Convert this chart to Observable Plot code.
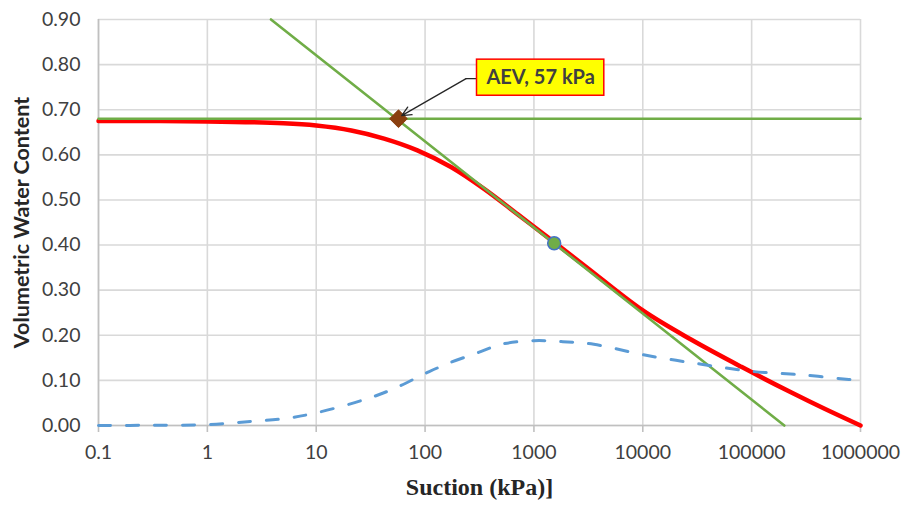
<!DOCTYPE html>
<html><head><meta charset="utf-8">
<script src="https://cdn.jsdelivr.net/npm/d3@7"></script>
<script src="https://cdn.jsdelivr.net/npm/@observablehq/plot@0.6"></script>
<style>body{margin:0;background:#fff} #chart svg{display:block}</style>
</head><body><div id="chart"></div>
<script>
// SWCC (red)
const swccSuction = [0.1, 1, 5, 10, 21, 42, 85, 173, 351, 711, 1343, 3000, 10000, 28000, 80500, 232000, 468000, 1000000];
const swccTheta   = [0.675, 0.674, 0.670, 0.665, 0.654, 0.636, 0.610, 0.573, 0.524, 0.468, 0.417, 0.352, 0.255, 0.190, 0.130, 0.073, 0.037, 0.0];
// derivative / pore-size curve (blue dashed)
const derivSuction = [0.1, 0.3, 1, 2.5, 5, 10, 30, 52, 100, 160, 310, 500, 1000, 1780, 3550, 10000, 32000, 100000, 300000, 780000, 1000000];
const derivValue   = [0.0, 0.0005, 0.002, 0.009, 0.015, 0.028, 0.060, 0.082, 0.115, 0.137, 0.162, 0.180, 0.188, 0.186, 0.180, 0.157, 0.137, 0.120, 0.112, 0.102, 0.100];
// green construction lines
const tangentSuction = [3.84, 199500];
const tangentTheta   = [0.9, 0.0];
const saturatedSuction = [0.1, 1000000];
const saturatedTheta   = [0.68, 0.68];
// markers
const aevPoint = [{x: 57, y: 0.68}];
const inflectionPoint = [{x: 1535, y: 0.404}];
// annotation
const aevLabel = "AEV, 57 kPa";
const labelBox = [{x1: 300, x2: 4430, y1: 0.731, y2: 0.811}];
const labelCenter = [{x: 1153, y: 0.771, text: aevLabel}];
const leaderLine = [{x: 300, y: 0.769}, {x: 238, y: 0.769}];
const leaderArrow = [{x1: 238, y1: 0.769, x2: 61, y2: 0.687}];
// ticks
const xTicks = [0.1, 1, 10, 100, 1000, 10000, 100000, 1000000];
const xTickLabels = ["0.1", "1", "10", "100", "1000", "10000", "100000", "1000000"];
const yTicks = [0, 0.1, 0.2, 0.3, 0.4, 0.5, 0.6, 0.7, 0.8, 0.9];
const yTickLabels = ["0.00", "0.10", "0.20", "0.30", "0.40", "0.50", "0.60", "0.70", "0.80", "0.90"];
const xTitle = "Suction (kPa)]";
const yTitle = "Volumetric Water Content";

const swcc = swccSuction.map((x, i) => ({x, y: swccTheta[i]}));
const deriv = derivSuction.map((x, i) => ({x, y: derivValue[i]}));
const tangent = tangentSuction.map((x, i) => ({x, y: tangentTheta[i]}));
const saturated = saturatedSuction.map((x, i) => ({x, y: saturatedTheta[i]}));
const xTickData = xTicks.map((x, i) => ({x, label: xTickLabels[i]}));

const chart = Plot.plot({
  width: 902,
  height: 509,
  marginLeft: 98,
  marginRight: 42,
  marginTop: 19,
  marginBottom: 84,
  style: {fontFamily: "Lato, sans-serif", background: "#fff", overflow: "visible"},
  x: {type: "log", domain: [0.1, 1000000]},
  y: {domain: [0, 0.9]},
  marks: [
    Plot.gridX(xTicks, {stroke: "#d9d9d9", strokeOpacity: 1, strokeWidth: 1.6}),
    Plot.gridY(yTicks, {stroke: "#d9d9d9", strokeOpacity: 1, strokeWidth: 1.6}),
    Plot.ruleX([0.1], {stroke: "#c0c0c0", strokeWidth: 1.6}),
    Plot.ruleY([0], {stroke: "#c0c0c0", strokeWidth: 1.6}),
    Plot.axisX(xTicks, {tickSize: 7, stroke: "#c0c0c0", strokeWidth: 1.6, text: null, label: null}),
    Plot.text(xTickData, {x: "x", text: "label", frameAnchor: "bottom", dy: 33, fontSize: 19.5, fill: "#404040"}),
    Plot.axisY(yTicks, {tickFormat: (d, i) => yTickLabels[i], tickSize: 0, tickPadding: 18, fontSize: 19.5, fill: "#404040", label: null}),
    Plot.line(swcc, {x: "x", y: "y", stroke: "#ff0000", strokeWidth: 4.5, curve: "catmull-rom"}),
    Plot.line(saturated, {x: "x", y: "y", stroke: "#70ad47", strokeWidth: 2.6}),
    Plot.line(tangent, {x: "x", y: "y", stroke: "#70ad47", strokeWidth: 2.6}),
    Plot.line(deriv, {x: "x", y: "y", stroke: "#5b9bd5", strokeWidth: 3, strokeDasharray: "12,16", strokeLinecap: "round", curve: "catmull-rom"}),
    Plot.dot(aevPoint, {x: "x", y: "y", symbol: "diamond2", r: 8, fill: "#8a3f0f", stroke: "#8a3f0f", strokeWidth: 1}),
    Plot.dot(inflectionPoint, {x: "x", y: "y", r: 6.5, fill: "#70ad47", stroke: "#4472c4", strokeWidth: 1.5}),
    Plot.line(leaderLine, {x: "x", y: "y", stroke: "#262626", strokeWidth: 1.3}),
    Plot.arrow(leaderArrow, {x1: "x1", y1: "y1", x2: "x2", y2: "y2", stroke: "#262626", strokeWidth: 1.3, headLength: 12, headAngle: 50}),
    Plot.rect(labelBox, {x1: "x1", x2: "x2", y1: "y1", y2: "y2", fill: "#ffff00", stroke: "#ff0000", strokeWidth: 1.5}),
    Plot.text(labelCenter, {x: "x", y: "y", text: "text", fontSize: 20, fontWeight: "bold", fill: "#404040"}),
    Plot.text([xTitle], {frameAnchor: "bottom", dy: 69, fontSize: 24, fontWeight: "bold", fontFamily: "Liberation Serif, serif", fill: "#262626"}),
    Plot.text([yTitle], {frameAnchor: "left", textAnchor: "middle", dx: -76, rotate: -90, fontSize: 21.5, fontWeight: "bold", fill: "#262626"})
  ]
});
document.getElementById("chart").appendChild(chart);
</script>
</body></html>
